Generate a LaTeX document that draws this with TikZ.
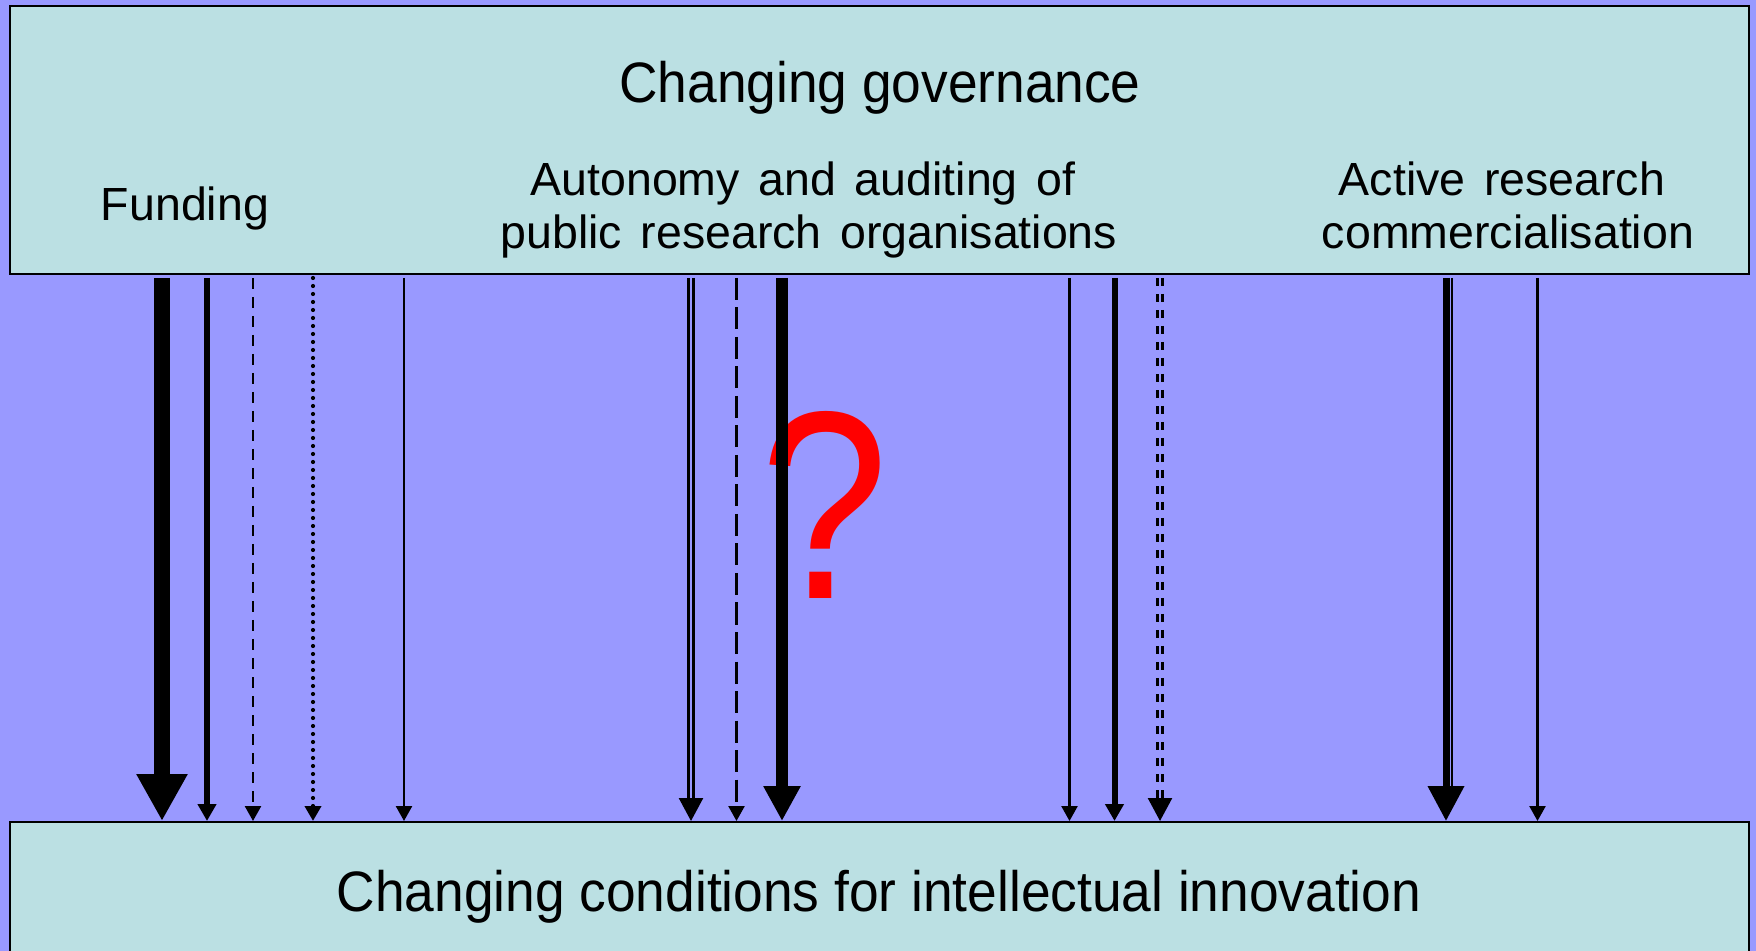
\documentclass[tikz,border=0pt]{standalone}
\usepackage{fontspec}
\setmainfont{Liberation Sans}
\newfontfamily\bigfont[FakeStretch=0.935]{Liberation Sans}
\newfontfamily\lblfont[WordSpace=1.45]{Liberation Sans}
\newfontfamily\qfont[FakeStretch=0.86]{Liberation Sans}
\usetikzlibrary{arrows.meta}
\definecolor{bgc}{RGB}{153,153,255}
\definecolor{boxc}{RGB}{187,224,227}
\begin{document}
\begin{tikzpicture}[x=0.5pt,y=-0.5pt,
  box/.style={draw=black, line width=1pt, fill=boxc, inner sep=0pt, rectangle},
  lbl/.style={anchor=base, inner sep=0pt, font=\lblfont\fontsize{23.25}{26.5}\selectfont},
  biglbl/.style={anchor=base, inner sep=0pt, font=\bigfont\fontsize{28.5}{32}\selectfont},
  conn/.style={draw=black, shorten <=1.5pt},
  huge/.style={conn, line width=8pt, -{Triangle[length=23.5pt,width=24pt]}},
  big/.style={conn, line width=6pt, -{Triangle[length=17.5pt,width=17.5pt]}},
  medium/.style={conn, line width=3pt, -{Triangle[length=8.5pt,width=9pt]}},
  thin/.style={conn, line width=1.25pt, -{Triangle[length=7.5pt,width=8pt]}},
  dbl/.style={conn, line width=1.25pt, double=bgc, double distance=1.45pt, -{Triangle[length=11.5pt,width=12pt]}},
  dashA/.style={dash pattern=on 5.5pt off 4pt},
  dashB/.style={dash pattern=on 11pt off 3.75pt},
  dashC/.style={dash pattern=on 4pt off 4pt},
  dotted line/.style={conn, line width=2.1pt, line cap=round, dash pattern=on 0pt off 4pt, -{Triangle[length=7.5pt,width=8pt]}}
]
\useasboundingbox (0,0) rectangle (1756,951);
\fill[bgc] (0,0) rectangle (1756,951);

\node[box, minimum width=869.5pt, minimum height=134pt] (top) at (879.5,140) {};
\node[box, minimum width=869.5pt, minimum height=100pt] (bot) at (879.5,922) {};

\node[biglbl] (title) at (880,103) {Changing governance};
\node[lbl] (fund) at (185,221) {Funding};
\node[lbl] (aut1) at (803,196) {Autonomy and auditing of};
\node[lbl] (aut2) at (809,249) {public research organisations};
\node[lbl] (act1) at (1502,196) {Active research};
\node[lbl] (act2) at (1508,249) {commercialisation};
\node[biglbl] (cond) at (879,911) {Changing conditions for intellectual innovation};

\node[anchor=base, inner sep=0pt, text=red, font=\qfont\fontsize{134}{136}\selectfont] (q) at (825,599) {?};

\coordinate (x1) at (162,0);
\coordinate (x2) at (207,0);
\coordinate (x3) at (253,0);
\coordinate (x4) at (313,0);
\coordinate (x5) at (404,0);
\coordinate (x6) at (691,0);
\coordinate (x7) at (736.5,0);
\coordinate (x8) at (782,0);
\coordinate (x9) at (1069.5,0);
\coordinate (x10) at (1114.5,0);
\coordinate (x11) at (1160,0);
\coordinate (x12) at (1446,0);
\coordinate (x12b) at (1452,0);
\coordinate (x13) at (1537.5,0);

\draw[huge] (top.south -| x1) -- (bot.north -| x1);
\draw[medium] (top.south -| x2) -- (bot.north -| x2);
\draw[thin, dashA] (top.south -| x3) -- (bot.north -| x3);
\draw[dotted line] (top.south -| x4) -- (bot.north -| x4);
\draw[thin] (top.south -| x5) -- (bot.north -| x5);

\draw[dbl] (top.south -| x6) -- (bot.north -| x6);
\draw[thin, dashB] (top.south -| x7) -- (bot.north -| x7);
\draw[big] (top.south -| x8) -- (bot.north -| x8);

\draw[thin] (top.south -| x9) -- (bot.north -| x9);
\draw[medium] (top.south -| x10) -- (bot.north -| x10);
\draw[dbl, dashC] (top.south -| x11) -- (bot.north -| x11);

\draw[conn, line width=1.25pt, shorten >=17pt] (top.south -| x12b) -- (bot.north -| x12b);
\draw[big, line width=3.5pt] (top.south -| x12) -- (bot.north -| x12);
\draw[thin] (top.south -| x13) -- (bot.north -| x13);
\end{tikzpicture}
\end{document}
